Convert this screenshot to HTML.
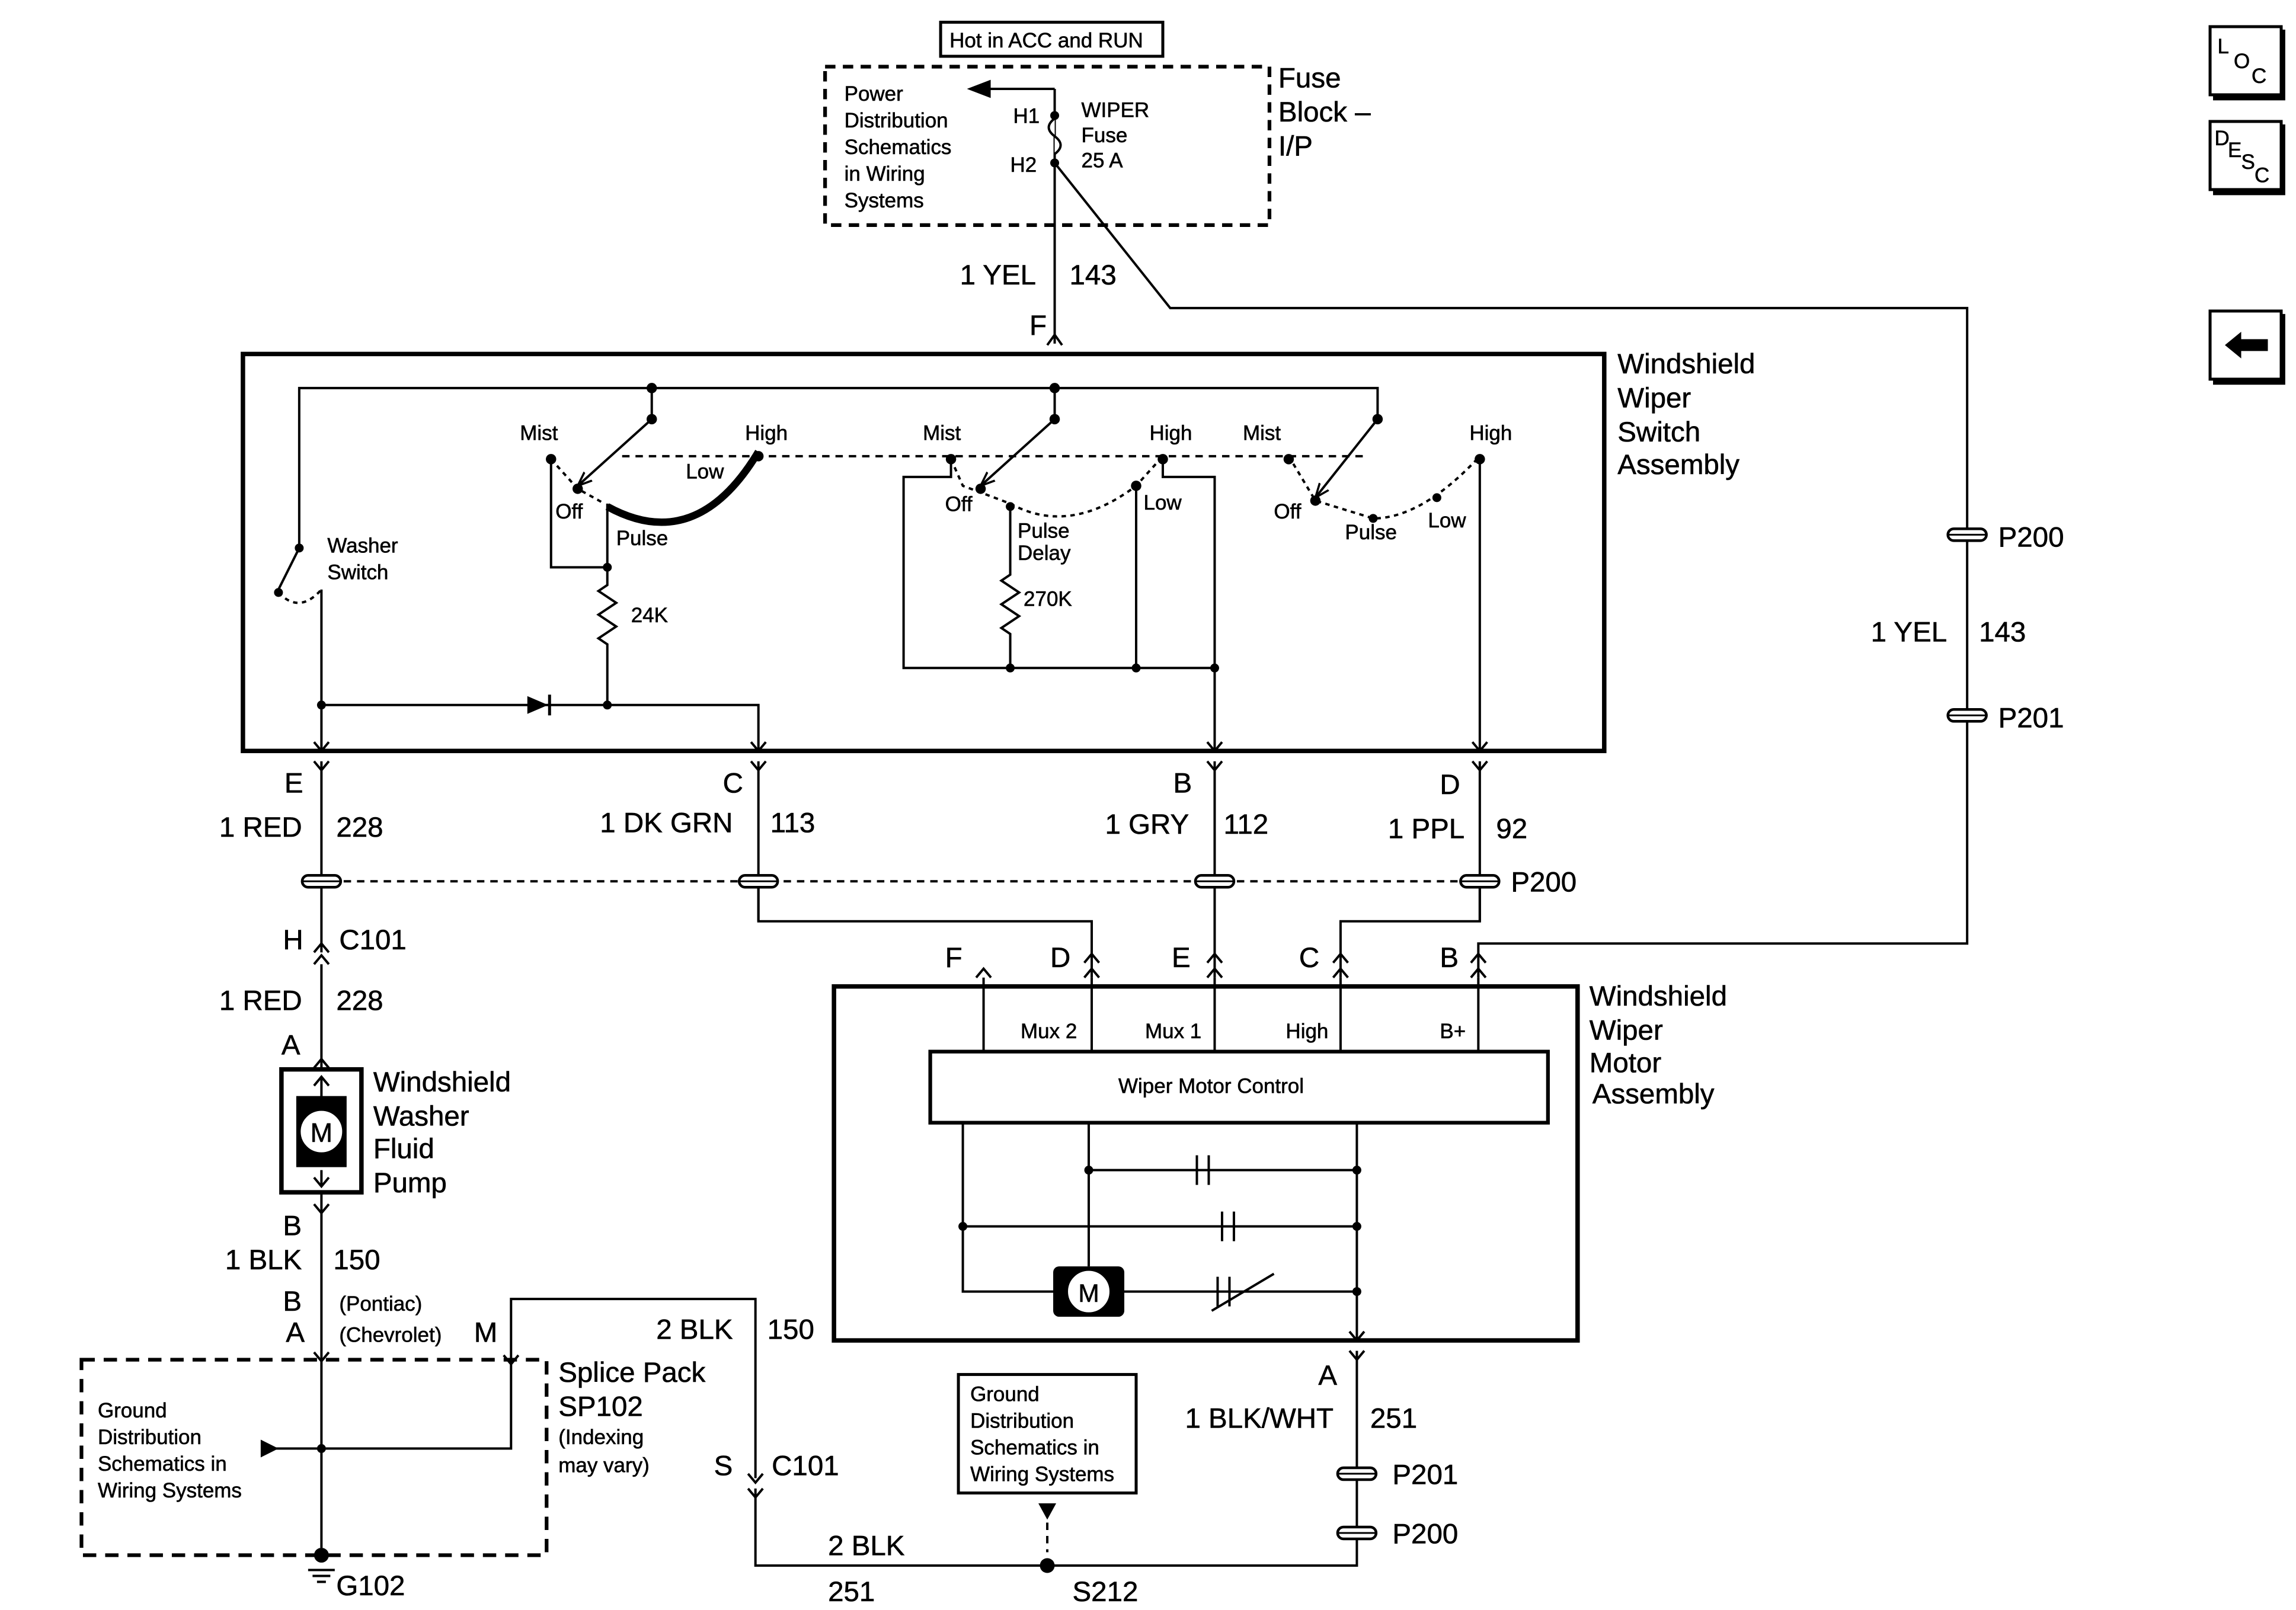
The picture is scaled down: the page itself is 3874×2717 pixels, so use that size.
<!DOCTYPE html>
<html><head><meta charset="utf-8"><style>
html,body{margin:0;padding:0;background:#fff}
svg{display:block}
text{font-family:"Liberation Sans",Arial,sans-serif;fill:#000;stroke:#000;stroke-width:0.25}
</style></head><body>
<svg width="3874" height="2717" viewBox="0 0 1550 1087" preserveAspectRatio="none" xmlns="http://www.w3.org/2000/svg">
<defs>
<marker id="ar" viewBox="0 0 10 10" refX="10" refY="5" markerWidth="6" markerHeight="6" orient="auto"><path d="M0,1 L10,5 L0,9" fill="none" stroke="#000" stroke-width="1.5"/></marker>
</defs>
<g stroke="#000" stroke-width="1.6" fill="none">
<rect x="635" y="15" width="150" height="23" stroke-width="2"/>
<rect x="557" y="45" width="300" height="107" stroke-dasharray="7,5" stroke-width="2.5"/>
<line x1="712" y1="60" x2="712" y2="232"/>
<line x1="712" y1="60" x2="660" y2="60"/>
<path d="M655,60 L668,55 L668,65 Z" fill="#000"/>
<path d="M712,80 q-8,6 0,12 q8,6 0,12" fill="#fff"/>
<path d="M712,110 L790,208 L1328,208 L1328,637 L998,637 L998,660"/>
<rect x="164" y="239" width="919" height="268" stroke-width="3"/>
<path d="M707,233 L712,226 L717,233"/>
<path d="M202,370 L202,262 L930,262 L930,283"/>
<line x1="440" y1="262" x2="440" y2="283"/>
<line x1="712" y1="262" x2="712" y2="283"/>
<line x1="440" y1="283" x2="390" y2="328" marker-end="url(#ar)"/>
<line x1="712" y1="283" x2="662" y2="328" marker-end="url(#ar)"/>
<line x1="930" y1="283" x2="888" y2="336" marker-end="url(#ar)"/>
<line x1="202" y1="370" x2="188" y2="398"/>
<path d="M188,400 q14,15 29,-2" stroke-dasharray="3,3"/>
<line x1="217" y1="398" x2="217" y2="507"/>
<line x1="420" y1="308" x2="920" y2="308" stroke-dasharray="5,4"/>
<path d="M372,310 L390,330 L408,340" stroke-dasharray="3,3"/>
<path d="M410,342 Q470,375 512,305" stroke-width="5"/>
<path d="M372,310 L372,383 L410,383"/>
<path d="M410,340 L410,395 l-6,4 l12,8 l-12,8 l12,8 l-12,8 l6,4 L410,476"/>
<path d="M217,476 L512,476 L512,507"/>
<path d="M642,310 L650,328 L682,340 Q722,362 767,328 L785,308" stroke-dasharray="3,3"/>
<path d="M642,308 L642,322 L610,322 L610,451 L820,451"/>
<path d="M682,340 L682,388 l-6,4 l12,8 l-12,8 l12,8 l-12,8 l6,4 L682,451"/>
<line x1="767" y1="328" x2="767" y2="451"/>
<path d="M785,308 L785,322 L820,322 L820,507"/>
<path d="M870,308 L888,338 L927,350 Q960,350 999,308" stroke-dasharray="3,3"/>
<line x1="999" y1="308" x2="999" y2="507"/>
<path d="M212,501 l5,6 l5,-6 M507,501 l5,6 l5,-6 M815,501 l5,6 l5,-6 M994,501 l5,6 l5,-6"/>
<path d="M212,514 l5,6 l5,-6 M507,514 l5,6 l5,-6 M815,514 l5,6 l5,-6 M994,514 l5,6 l5,-6"/>
<line x1="217" y1="514" x2="217" y2="643"/>
<line x1="512" y1="514" x2="512" y2="622"/>
<line x1="820" y1="514" x2="820" y2="660"/>
<line x1="999" y1="514" x2="999" y2="622"/>
<line x1="232" y1="595" x2="985" y2="595" stroke-dasharray="5,4"/>
<path d="M512,595 L512,622 L737,622 L737,660"/>
<path d="M999,595 L999,622 L905,622 L905,660"/>
<rect x="563" y="666" width="502" height="239" stroke-width="3"/>
<path d="M664,660 L664,710 M737,660 L737,710 M820,660 L820,710 M905,660 L905,710 M998,660 L998,710"/>
<path d="M659,660 l5,-6 l5,6 M732,660 l5,-6 l5,6 M815,660 l5,-6 l5,6 M900,660 l5,-6 l5,6 M993,660 l5,-6 l5,6"/>
<path d="M732,650 l5,-6 l5,6 M815,650 l5,-6 l5,6 M900,650 l5,-6 l5,6 M993,650 l5,-6 l5,6"/>
<rect x="628" y="710" width="417" height="48" stroke-width="2.5"/>
<path d="M650,758 L650,872 L716,872 M754,872 L916,872 M735,758 L735,855 M916,758 L916,905"/>
<path d="M735,790 L916,790 M650,828 L916,828"/>
<path d="M808,780 v20 M816,780 v20 M825,818 v20 M833,818 v20 M822,862 v20 M830,862 v20 M818,885 L860,860"/>
<path d="M911,899 l5,6 l5,-6 M911,912 l5,6 l5,-6"/>
<path d="M916,912 L916,1057 L510,1057 L510,1005 M510,998 L510,877 L345,877 L345,920"/>
<path d="M505,1005 l5,6 l5,-6 M505,995 l5,6 l5,-6"/>
<g stroke-width="1.8" fill="#fff">
<rect x="204" y="591" width="26" height="8" rx="4"/><rect x="499" y="591" width="26" height="8" rx="4"/><rect x="807" y="591" width="26" height="8" rx="4"/><rect x="986" y="591" width="26" height="8" rx="4"/>
<rect x="1315" y="357" width="26" height="8" rx="4"/><rect x="1315" y="479" width="26" height="8" rx="4"/>
<rect x="903" y="991" width="26" height="8" rx="4"/><rect x="903" y="1031" width="26" height="8" rx="4"/>
</g>
<path d="M204,595 h26 M499,595 h26 M807,595 h26 M986,595 h26 M1315,361 h26 M1315,483 h26 M903,995 h26 M903,1035 h26" stroke-width="1.2"/>
<path d="M212,643 l5,-6 l5,6 M212,651 l5,-6 l5,6 M212,721 l5,-6 l5,6 M212,813 l5,6 l5,-6"/>
<line x1="217" y1="651" x2="217" y2="722"/>
<rect x="190" y="722" width="54" height="83" stroke-width="3"/>
<line x1="217" y1="805" x2="217" y2="1045"/>
<path d="M217,728 v14 M217,790 v10 M212,733 l5,-6 l5,6 M212,795 l5,6 l5,-6"/>
<rect x="55" y="918" width="314" height="132" stroke-dasharray="9,6" stroke-width="2.5"/>
<path d="M185,978 L345,978 L345,920 M340,915 l5,6 l5,-6 M212,913 l5,6 l5,-6"/>
<path d="M208,1060 h18 M211,1064 h12 M214,1068 h6"/>
<rect x="647" y="928" width="120" height="80" stroke-width="2"/>
<line x1="707" y1="1028" x2="707" y2="1048" stroke-dasharray="5,4"/>
</g>
<g fill="#000">
<circle cx="712" cy="78" r="3"/><circle cx="712" cy="110" r="3"/>
<circle cx="440" cy="262" r="3.5"/><circle cx="712" cy="262" r="3.5"/>
<circle cx="440" cy="283" r="3.5"/><circle cx="712" cy="283" r="3.5"/><circle cx="930" cy="283" r="3.5"/>
<circle cx="202" cy="370" r="3"/><circle cx="188" cy="400" r="3"/>
<circle cx="372" cy="310" r="3.5"/><circle cx="390" cy="330" r="3.5"/><circle cx="512" cy="308" r="3.5"/>
<circle cx="410" cy="383" r="3"/><circle cx="410" cy="476" r="3"/><circle cx="217" cy="476" r="3"/>
<circle cx="642" cy="310" r="3.5"/><circle cx="662" cy="330" r="3.5"/><circle cx="682" cy="342" r="3"/><circle cx="767" cy="328" r="3.5"/><circle cx="785" cy="310" r="3.5"/>
<circle cx="682" cy="451" r="3"/><circle cx="767" cy="451" r="3"/><circle cx="820" cy="451" r="3"/>
<circle cx="870" cy="310" r="3.5"/><circle cx="888" cy="338" r="3.5"/><circle cx="927" cy="350" r="3"/><circle cx="970" cy="336" r="3"/><circle cx="999" cy="310" r="3.5"/>
<path d="M356,470 L370,476 L356,482 Z"/><rect x="370" y="469" width="2" height="14"/>
<circle cx="735" cy="790" r="3"/><circle cx="916" cy="790" r="3"/><circle cx="650" cy="828" r="3"/><circle cx="916" cy="828" r="3"/><circle cx="916" cy="872" r="3"/>
<circle cx="217" cy="978" r="3"/><circle cx="217" cy="1050" r="5"/><circle cx="707" cy="1057" r="5"/>
<path d="M176,972 L188,978 L176,984 Z"/><path d="M701,1015 L713,1015 L707,1026 Z"/>
<rect x="200" y="740" width="34" height="48"/>
<rect x="711" y="855" width="48" height="34" rx="4"/>
</g>
<circle cx="217" cy="764" r="15" fill="#fff" stroke="#000" stroke-width="2"/>
<circle cx="735" cy="872" r="15" fill="#fff" stroke="#000" stroke-width="2"/>
<text x="217" y="771" font-size="18" text-anchor="middle">M</text>
<text x="735" y="879" font-size="17" text-anchor="middle">M</text>
<g font-size="14">
<text x="641" y="32">Hot in ACC and RUN</text>
<text x="570" y="68">Power</text><text x="570" y="86">Distribution</text><text x="570" y="104">Schematics</text><text x="570" y="122">in Wiring</text><text x="570" y="140">Systems</text>
<text x="684" y="83">H1</text><text x="682" y="116">H2</text>
<text x="730" y="79">WIPER</text><text x="730" y="96">Fuse</text><text x="730" y="113">25 A</text>
<text x="351" y="297">Mist</text><text x="503" y="297">High</text><text x="463" y="323">Low</text><text x="375" y="350">Off</text><text x="416" y="368">Pulse</text>
<text x="221" y="373">Washer</text><text x="221" y="391">Switch</text><text x="426" y="420">24K</text>
<text x="623" y="297">Mist</text><text x="776" y="297">High</text><text x="638" y="345">Off</text><text x="772" y="344">Low</text><text x="687" y="363">Pulse</text><text x="687" y="378">Delay</text><text x="691" y="409">270K</text>
<text x="839" y="297">Mist</text><text x="992" y="297">High</text><text x="860" y="350">Off</text><text x="908" y="364">Pulse</text><text x="964" y="356">Low</text>
<text x="689" y="701">Mux 2</text><text x="773" y="701">Mux 1</text><text x="868" y="701">High</text><text x="972" y="701">B+</text>
<text x="755" y="738">Wiper Motor Control</text>
<text x="66" y="957">Ground</text><text x="66" y="975">Distribution</text><text x="66" y="993">Schematics in</text><text x="66" y="1011">Wiring Systems</text>
<text x="655" y="946">Ground</text><text x="655" y="964">Distribution</text><text x="655" y="982">Schematics in</text><text x="655" y="1000">Wiring Systems</text>
<text x="229" y="885">(Pontiac)</text><text x="229" y="906">(Chevrolet)</text>
<text x="377" y="975">(Indexing</text><text x="377" y="994">may vary)</text>
</g>
<g font-size="19">
<text x="863" y="59">Fuse</text><text x="863" y="82">Block –</text><text x="863" y="105">I/P</text>
<text x="648" y="192">1 YEL</text><text x="722" y="192">143</text><text x="695" y="226">F</text>
<text x="1092" y="252">Windshield</text><text x="1092" y="275">Wiper</text><text x="1092" y="298">Switch</text><text x="1092" y="320">Assembly</text>
<text x="1349" y="369">P200</text><text x="1263" y="433">1 YEL</text><text x="1336" y="433">143</text><text x="1349" y="491">P201</text>
<text x="192" y="535">E</text><text x="488" y="535">C</text><text x="792" y="535">B</text><text x="972" y="536">D</text>
<text x="148" y="565">1 RED</text><text x="227" y="565">228</text>
<text x="405" y="562">1 DK GRN</text><text x="520" y="562">113</text>
<text x="746" y="563">1 GRY</text><text x="826" y="563">112</text>
<text x="937" y="566">1 PPL</text><text x="1010" y="566">92</text><text x="1020" y="602">P200</text>
<text x="191" y="641">H</text><text x="229" y="641">C101</text>
<text x="148" y="682">1 RED</text><text x="227" y="682">228</text><text x="190" y="712">A</text>
<text x="638" y="653">F</text><text x="709" y="653">D</text><text x="791" y="653">E</text><text x="877" y="653">C</text><text x="972" y="653">B</text>
<text x="1073" y="679">Windshield</text><text x="1073" y="702">Wiper</text><text x="1073" y="724">Motor</text><text x="1075" y="745">Assembly</text>
<text x="252" y="737">Windshield</text><text x="252" y="760">Washer</text><text x="252" y="782">Fluid</text><text x="252" y="805">Pump</text>
<text x="191" y="834">B</text><text x="152" y="857">1 BLK</text><text x="225" y="857">150</text>
<text x="191" y="885">B</text><text x="193" y="906">A</text><text x="320" y="906">M</text>
<text x="443" y="904">2 BLK</text><text x="518" y="904">150</text>
<text x="377" y="933">Splice Pack</text><text x="377" y="956">SP102</text>
<text x="482" y="996">S</text><text x="521" y="996">C101</text>
<text x="890" y="935">A</text><text x="800" y="964">1 BLK/WHT</text><text x="925" y="964">251</text>
<text x="940" y="1002">P201</text><text x="940" y="1042">P200</text>
<text x="559" y="1050">2 BLK</text><text x="559" y="1081">251</text><text x="724" y="1081">S212</text><text x="227" y="1077">G102</text>
</g>
<g stroke="#000" stroke-width="2" fill="none">
<rect x="1492" y="18" width="48" height="46"/><rect x="1492" y="82" width="48" height="46"/><rect x="1492" y="210" width="48" height="46"/>
<path d="M1541,20 v46 h-47 M1541,84 v46 h-47 M1541,212 v46 h-47" stroke-width="3.5"/>
</g>
<g font-size="14"><text x="1497" y="36">L</text><text x="1508" y="46">O</text><text x="1520" y="56">C</text>
<text x="1495" y="98">D</text><text x="1504" y="106">E</text><text x="1513" y="114">S</text><text x="1522" y="123">C</text></g>
<path d="M1502,233 L1513,224 L1513,229 L1531,229 L1531,237 L1513,237 L1513,242 Z" fill="#000"/>
</svg>
</body></html>
